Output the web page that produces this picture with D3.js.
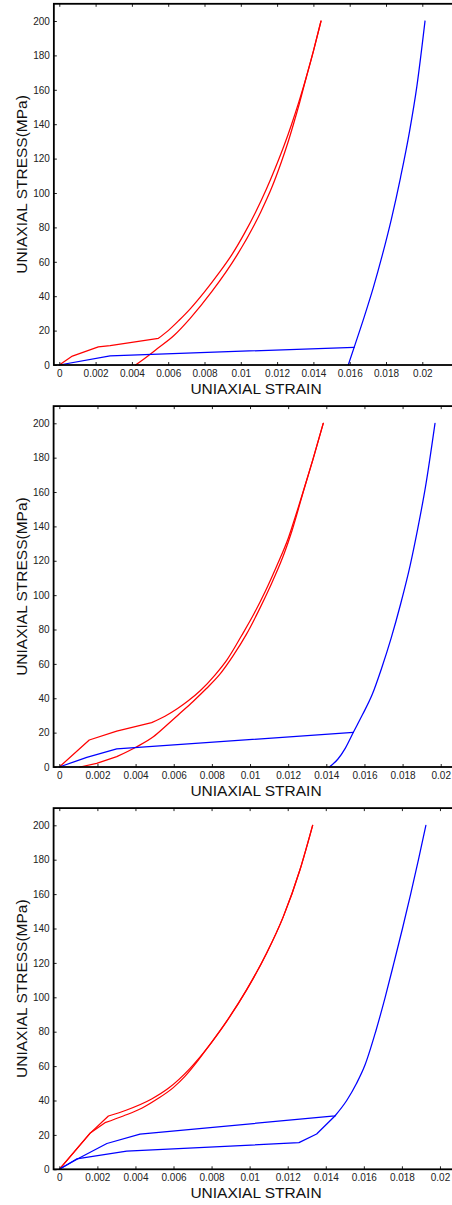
<!DOCTYPE html>
<html>
<head>
<meta charset="utf-8">
<script src="https://cdn.jsdelivr.net/npm/d3@7"></script>
<style>
  html, body { margin: 0; padding: 0; background: #fff; }
  svg { display: block; }
  .tick text { font-family: "Liberation Sans", Arial, sans-serif; font-size: 10px; fill: #222; }
  .axis-title { font-family: "Liberation Sans", Arial, sans-serif; font-size: 15.5px; fill: #111; }
</style>
</head>
<body>
<svg id="chart" width="452" height="1205"></svg>
<script>
// Tick values shared by the three panels
const strainTicks = [0, 0.002, 0.004, 0.006, 0.008, 0.01, 0.012, 0.014, 0.016, 0.018, 0.02];
const stressTicks = [0, 20, 40, 60, 80, 100, 120, 140, 160, 180, 200];
const stressRange = [0, 210];

// Each path: a straight-segment part followed by a smooth part, as [strain, stress(MPa)]

// Panel 1
const p1RedLoadKnee = [[0,0],[0.00072,5.2],[0.00215,10.5],[0.0028,11.2],[0.00546,15.5]];
const p1RedLoadRise = [[0.00546,15.5],[0.006,20],[0.0066,26],[0.0072,32.5],[0.008,42.5],[0.0088,53.5],[0.0095,64],[0.0102,76.5],[0.0108,88.5],[0.0114,102],[0.0119,114.5],[0.0124,128],[0.0128,140],[0.0132,153],[0.0136,167],[0.014,182.5],[0.01442,200]];
const p1RedUnloadKnee = [];
const p1RedUnloadRise = [[0.0042,0],[0.0047,3.8],[0.00546,10],[0.0063,17],[0.0072,27],[0.0084,42.6],[0.0098,64],[0.0111,89],[0.0117,103],[0.0122,117],[0.0126,129.5],[0.0129,140],[0.0132,151],[0.0136,167],[0.014,182.5],[0.01442,200]];
const p1BlueLoadKnee = [[0,0],[0.0028,5.3],[0.01624,10.3]];
const p1BlueLoadRise = [];
const p1BlueUnloadKnee = [];
const p1BlueUnloadRise = [[0.01592,0],[0.0163,12],[0.0168,28],[0.0173,45],[0.0178,64],[0.0183,85],[0.0188,109],[0.0193,136],[0.0197,162],[0.02015,200]];

// Panel 2
const p2RedLoadKnee = [[0,0],[0.00157,15.7],[0.00301,20.9],[0.00484,25.8]];
const p2RedLoadRise = [[0.00484,25.8],[0.00554,29.5],[0.0062,34],[0.00676,38.5],[0.0074,44.5],[0.00816,53.5],[0.0088,62.5],[0.00956,76.5],[0.0102,89],[0.01079,102],[0.0114,117],[0.01201,133.3],[0.0125,150],[0.01288,163.5],[0.0133,179],[0.01384,200]];
const p2RedUnloadKnee = [[0.00108,0],[0.00196,2.1],[0.00301,6]];
const p2RedUnloadRise = [[0.00301,6],[0.00406,11.8],[0.00493,17.6],[0.0056,24],[0.0063,31],[0.007,38],[0.0077,45.5],[0.0084,53.7],[0.0091,64.5],[0.0098,77],[0.0105,92],[0.0112,108.5],[0.0118,124.5],[0.0122,137.5],[0.01288,163.5],[0.0133,179],[0.01384,200]];
const p2BlueLoadKnee = [[0,0],[0.00144,5.6],[0.00301,10.5],[0.01542,20.2]];
const p2BlueLoadRise = [];
const p2BlueUnloadKnee = [];
const p2BlueUnloadRise = [[0.01416,0],[0.0146,4.5],[0.015,11],[0.01542,20.2],[0.0159,30.5],[0.0164,42],[0.0169,57.5],[0.0174,75],[0.0179,95],[0.0184,117.5],[0.0188,139],[0.0192,163],[0.0197,200]];

// Panel 3
const p3RedLoadKnee = [[0,0],[0.00161,20.9],[0.00258,31]];
const p3RedLoadRise = [[0.00258,31],[0.00354,34.5],[0.00485,40.9],[0.00573,47.1],[0.00687,58.7],[0.00774,70],[0.00879,86],[0.00984,104.3],[0.01089,125.6],[0.01177,146.9],[0.01264,174],[0.01331,200]];
const p3RedUnloadKnee = [[0,0],[0.00161,20.9],[0.0024,27.1]];
const p3RedUnloadRise = [[0.0024,27.1],[0.00336,31],[0.00433,35.5],[0.00512,40.7],[0.00599,47.5],[0.0066,54],[0.0072,62],[0.00774,70],[0.00879,86],[0.00984,104.3],[0.01089,125.6],[0.01177,146.9],[0.01264,174],[0.01331,200]];
const p3BlueUpperKnee = [[0,0],[0.001,6.3],[0.0025,15],[0.00424,20.5],[0.01448,31]];
const p3BlueUpperRise = [[0.01448,31],[0.0151,40],[0.01562,50],[0.01606,60.6],[0.01662,80],[0.01712,100],[0.01758,120],[0.01803,140],[0.01846,160],[0.01887,180],[0.01926,200]];
const p3BlueLowerKnee = [[0,0],[0.00091,6],[0.00354,10.5],[0.01259,15.5],[0.01352,20.5],[0.01448,31]];
const p3BlueLowerRise = [];

const RED = "#ff0000", BLUE = "#0000ff";

const panels = [
  { strainRange: [-0.0003, 0.022], left: 53.86, right: 458.6, top: 3.8,   bottom: 365,
    series: [[p1RedLoadKnee, p1RedLoadRise, RED], [p1RedUnloadKnee, p1RedUnloadRise, RED],
             [p1BlueLoadKnee, p1BlueLoadRise, BLUE], [p1BlueUnloadKnee, p1BlueUnloadRise, BLUE]] },
  { strainRange: [-0.0003, 0.021], left: 53.6,  right: 459.8, top: 406.1, bottom: 767,
    series: [[p2RedLoadKnee, p2RedLoadRise, RED], [p2RedUnloadKnee, p2RedUnloadRise, RED],
             [p2BlueLoadKnee, p2BlueLoadRise, BLUE], [p2BlueUnloadKnee, p2BlueUnloadRise, BLUE]] },
  { strainRange: [-0.0003, 0.021], left: 53.6,  right: 459.0, top: 808.1, bottom: 1169.3,
    series: [[p3RedLoadKnee, p3RedLoadRise, RED], [p3RedUnloadKnee, p3RedUnloadRise, RED],
             [p3BlueUpperKnee, p3BlueUpperRise, BLUE], [p3BlueLowerKnee, p3BlueLowerRise, BLUE]] }
];

const svg = d3.select("#chart");
const fmtStrain = d => d === 0 ? "0" : String(+d.toFixed(3));

panels.forEach(p => {
  const x = d3.scaleLinear().domain(p.strainRange).range([p.left, p.right]);
  const y = d3.scaleLinear().domain(stressRange).range([p.bottom, p.top]);
  const g = svg.append("g");

  const straight = d3.line().x(d => x(d[0])).y(d => y(d[1])).curve(d3.curveLinear);
  const smooth = d3.line().x(d => x(d[0])).y(d => y(d[1])).curve(d3.curveMonotoneX);

  // curves: polyline knee joined to a smooth rise
  p.series.forEach(([knee, rise, color]) => {
    let d = knee.length ? straight(knee) : "";
    if (rise.length) {
      const r = smooth(rise);
      d += d ? r.replace(/^M/, "L") : r;
    }
    g.append("path").attr("d", d)
      .attr("fill", "none").attr("stroke", color)
      .attr("stroke-width", 1.25).attr("stroke-linejoin", "round").attr("stroke-linecap", "round");
  });

  // axes with inward ticks
  const bottomAxis = g.append("g").attr("transform", `translate(0,${p.bottom})`)
    .call(d3.axisBottom(x).tickValues(strainTicks).tickFormat(fmtStrain)
      .tickSizeInner(-3).tickSizeOuter(0).tickPadding(5));
  const topAxis = g.append("g").attr("transform", `translate(0,${p.top})`)
    .call(d3.axisTop(x).tickValues(strainTicks).tickFormat("")
      .tickSizeInner(-3).tickSizeOuter(0));
  const leftAxis = g.append("g").attr("transform", `translate(${p.left},0)`)
    .call(d3.axisLeft(y).tickValues(stressTicks)
      .tickSizeInner(-3).tickSizeOuter(0).tickPadding(4));
  [bottomAxis, topAxis, leftAxis].forEach(a => {
    a.select(".domain").remove();
    a.selectAll(".tick line").attr("stroke", "#222").attr("stroke-width", 1);
  });

  // frame
  g.append("rect")
    .attr("x", p.left).attr("y", p.top)
    .attr("width", p.right - p.left).attr("height", p.bottom - p.top)
    .attr("fill", "none").attr("stroke", "#000").attr("stroke-width", 1.8);

  // titles
  g.append("text").attr("class", "axis-title")
    .attr("x", 256).attr("y", p.bottom + 28.7)
    .attr("text-anchor", "middle").text("UNIAXIAL STRAIN");
  g.append("text").attr("class", "axis-title")
    .attr("transform", `translate(26.8,${(p.top + p.bottom) / 2}) rotate(-90)`)
    .attr("text-anchor", "middle").text("UNIAXIAL STRESS(MPa)");
});
</script>
</body>
</html>
